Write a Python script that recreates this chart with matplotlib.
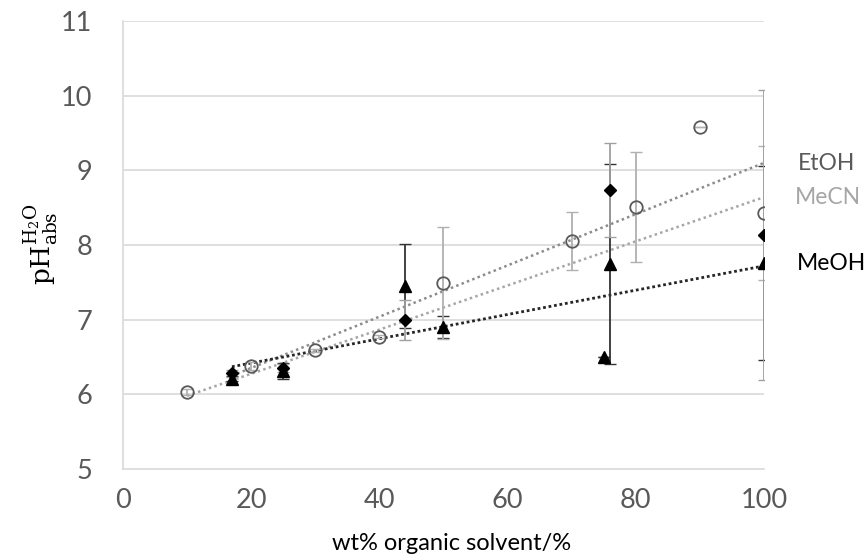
import matplotlib
matplotlib.use("Agg")
import matplotlib.pyplot as plt

# MeCN (open circles)
mecn_x = [10, 20, 30, 40, 50, 70, 80, 90, 100]
mecn_y = [6.03, 6.38, 6.59, 6.77, 7.49, 8.05, 8.51, 9.58, 8.43]
mecn_err = [0.04, 0.05, 0.02, 0.02, 0.75, 0.39, 0.74, 0.0, 0.90]

# EtOH (filled diamonds)
etoh_x = [17, 25, 44, 76, 100]
etoh_y = [6.28, 6.35, 7.00, 8.74, 8.13]
etoh_err = [0.05, 0.05, 0.27, 0.63, 1.94]

# MeOH (filled triangles)
meoh_x = [17, 25, 44, 50, 75, 76, 100]
meoh_y = [6.21, 6.31, 7.45, 6.90, 6.50, 7.74, 7.76]
meoh_err = [0.03, 0.11, 0.56, 0.15, 0.0, 1.34, 1.30]

# Trend lines (endpoints)
trend_etoh_x = [17, 100]
trend_etoh_y = [6.25, 9.10]
trend_mecn_x = [10, 100]
trend_mecn_y = [5.98, 8.64]
trend_meoh_x = [17, 100]
trend_meoh_y = [6.37, 7.72]

xticks = [0, 20, 40, 60, 80, 100]
yticks = [5, 6, 7, 8, 9, 10, 11]

FONT = "Lato"

fig = plt.figure(figsize=(8.65, 5.56), dpi=100)
ax = fig.add_axes([0.1422, 0.1565, 0.741, 0.8057])

grid_c = "#d9d9d9"
tick_c = "#595959"

ax.set_xlim(0, 100)
ax.set_ylim(5, 11)
ax.set_yticks(yticks)
ax.set_xticks(xticks)
for y in yticks[1:]:
    ax.axhline(y, color=grid_c, lw=1.2, zorder=0)
for s in ["top", "right"]:
    ax.spines[s].set_visible(False)
for s in ["left", "bottom"]:
    ax.spines[s].set_color(grid_c)
    ax.spines[s].set_linewidth(1.2)
ax.tick_params(length=0, labelsize=19.5, labelcolor=tick_c, pad=14)
for lab in ax.get_xticklabels() + ax.get_yticklabels():
    lab.set_fontfamily(FONT)
ax.tick_params(axis="y", pad=22)

# trend lines
ax.plot(trend_mecn_x, trend_mecn_y, ls=(0, (1, 1.3)), color="#a6a6a6", lw=1.8, zorder=2)
ax.plot(trend_etoh_x, trend_etoh_y, ls=(0, (1, 1.3)), color="#8c8c8c", lw=1.8, zorder=2)
ax.plot(trend_meoh_x, trend_meoh_y, ls=(0, (1, 1.0)), color="#262626", lw=2.0, zorder=2)

# error bars
ax.errorbar(meoh_x, meoh_y, yerr=meoh_err, fmt="none", ecolor="#333333", elinewidth=1.3,
            capsize=4, capthick=1.0, zorder=3)
ax.errorbar(mecn_x, mecn_y, yerr=mecn_err, fmt="none", ecolor="#b0b0b0", elinewidth=1.3,
            capsize=4, capthick=1.0, zorder=3)
ax.errorbar(etoh_x, etoh_y, yerr=etoh_err, fmt="none", ecolor="#a0a0a0", elinewidth=1.3,
            capsize=4, capthick=1.0, zorder=3)

# markers
ax.plot(mecn_x, mecn_y, ls="none", marker="o", ms=9, mfc="none", mec="#595959", mew=1.3, zorder=5)
ax.plot(etoh_x, etoh_y, ls="none", marker="D", ms=6.5, color="black", zorder=5)
ax.plot(meoh_x, meoh_y, ls="none", marker="^", ms=9, color="black", zorder=5)

# series labels
fig.text(798 / 865, 1 - 163 / 556, "EtOH", fontsize=16.5, color="#595959",
         family=FONT, va="center", ha="left")
fig.text(795 / 865, 1 - 198 / 556, "MeCN", fontsize=16.5, color="#a6a6a6",
         family=FONT, va="center", ha="left")
fig.text(797 / 865, 1 - 264 / 556, "MeOH", fontsize=16.5, color="black",
         family=FONT, va="center", ha="left")

fig.text(452 / 865, 1 - 543 / 556, "wt% organic solvent/%", fontsize=17, family=FONT,
         color="black", ha="center", va="center")
plt.rcParams["mathtext.fontset"] = "dejavuserif"
fig.text(0.047, 0.56, r"$\mathrm{pH}_{\mathrm{abs}}^{\mathrm{H_2O}}$", rotation=90,
         fontsize=19, ha="center", va="center")

fig.savefig("out.png", dpi=100)
